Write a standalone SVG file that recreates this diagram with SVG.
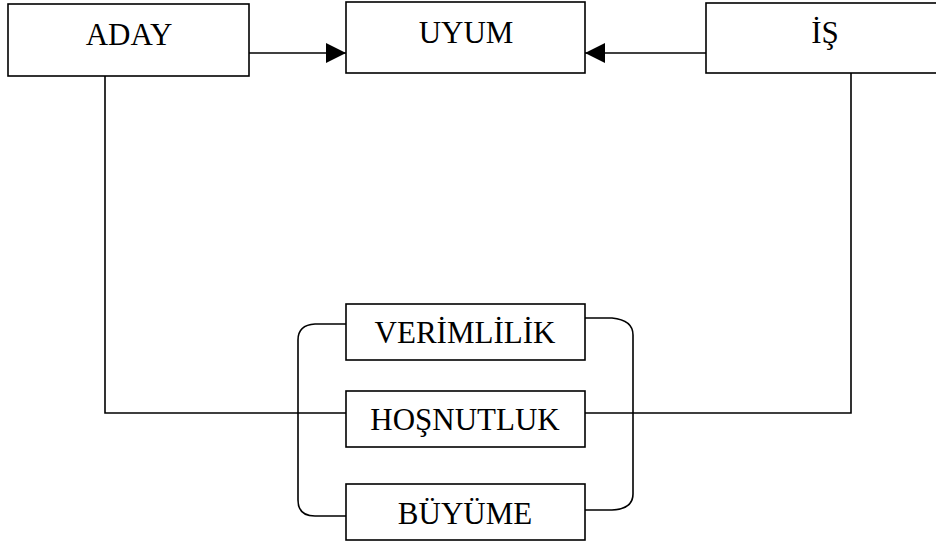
<svg xmlns="http://www.w3.org/2000/svg" width="936" height="545" viewBox="0 0 936 545">
<defs>
<style>
.box{fill:#fff;stroke:#000;stroke-width:1.6}
.t{font-family:"Liberation Serif","Times New Roman",serif;font-size:31px;fill:#000;text-anchor:middle}
.c{fill:none;stroke:#000;stroke-width:1.6}
</style>
<marker id="ah" viewBox="0 0 20 20" refX="20" refY="10" markerWidth="20" markerHeight="20" markerUnits="userSpaceOnUse" orient="auto">
<path d="M0,0 L20,10 L0,20 Z" fill="#000"/>
</marker>
</defs>
<rect width="936" height="545" fill="#fff"/>
<g id="connectors">
<line class="c" x1="249" y1="53" x2="346" y2="53" marker-end="url(#ah)"/>
<line class="c" x1="706" y1="53" x2="585" y2="53" marker-end="url(#ah)"/>
<polyline class="c" points="105,76 105,413 346,413"/>
<polyline class="c" points="851,73 851,413 585,413"/>
<path class="c" d="M346,324 L315,324 Q298,325 298,340 L298,500 Q298,516 315,516 L346,516"/>
<path class="c" d="M585,318 L612,318 Q633,320 633,335 L633,494 Q633,509 612,510 L585,510"/>
</g>
<g id="aday"><rect class="box" x="8" y="4" width="241" height="72"/><text class="t" x="129" y="45">ADAY</text></g>
<g id="uyum"><rect class="box" x="346" y="2" width="239" height="71"/><text class="t" x="466" y="43">UYUM</text></g>
<g id="is"><rect class="box" x="706" y="3" width="240" height="70"/><text class="t" x="825" y="43">İŞ</text></g>
<g id="verimlilik"><rect class="box" x="346" y="304" width="239" height="56"/><text class="t" x="465" y="343">VERİMLİLİK</text></g>
<g id="hosnutluk"><rect class="box" x="346" y="391" width="239" height="56"/><text class="t" x="465" y="430">HOŞNUTLUK</text></g>
<g id="buyume"><rect class="box" x="346" y="484" width="239" height="56"/><text class="t" x="465" y="524">BÜYÜME</text></g>
</svg>
